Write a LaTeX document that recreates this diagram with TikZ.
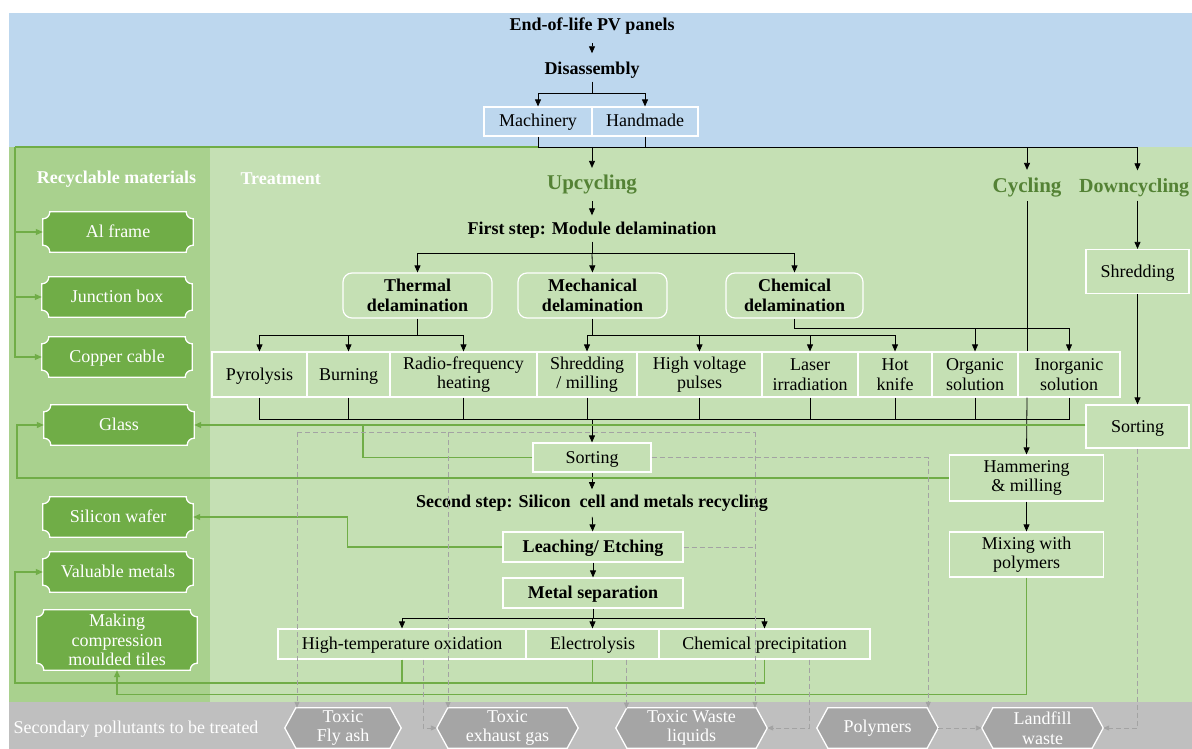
\documentclass[tikz,border=0pt]{standalone}
\usepackage{fontspec}
\setmainfont{Liberation Serif}
\usetikzlibrary{arrows.meta,calc}

\definecolor{skyblue}{HTML}{BDD7EE}
\definecolor{treatgreen}{HTML}{C5E0B4}
\definecolor{colgreen}{HTML}{A9D18E}
\definecolor{matgreen}{HTML}{70AD47}
\definecolor{linegreen}{HTML}{70AD47}
\definecolor{titlegreen}{HTML}{548235}
\definecolor{pollgray}{HTML}{BFBFBF}
\definecolor{hexgray}{HTML}{A5A5A5}
\definecolor{dashgray}{HTML}{A3A3A3}

\newcommand{\fs}{\fontsize{18}{19.5}\selectfont}

\pgfdeclarelayer{back}
\pgfdeclarelayer{mid}
\pgfsetlayers{back,mid,main}

\tikzset{
  head/.style={font=\fs\bfseries},
  route/.style={font=\fontsize{21}{23}\selectfont\bfseries, text=titlegreen},
  blk/.style={draw=white, line width=1.2pt, minimum height=45, inner sep=1pt, align=center},
  one/.style={text height=14pt, text depth=3pt},
  delam/.style={blk, rounded corners=9pt, font=\fs\bfseries, minimum width=149},
  mat/.style={text=white, minimum width=150, minimum height=40, inner sep=1pt, align=center},
  hex/.style={text=white, minimum height=40, inner sep=0pt, align=center},
  arr/.style={line width=0.8pt, -{Triangle[length=7pt,width=6pt]}},
  gline/.style={draw=linegreen, line width=1.1pt},
  garr/.style={gline, -{Triangle[length=7pt,width=6pt]}},
  dline/.style={draw=dashgray, line width=0.9pt, dash pattern=on 5pt off 3pt},
  darr/.style={dline, -{Triangle[length=6pt,width=5pt]}},
}

\begin{document}
\begin{tikzpicture}[x=1pt, y=-1pt, every node/.style={font=\fs}]
  \useasboundingbox (0,0) rectangle (1192,749);

  % bands
  \begin{pgfonlayer}{back}
    \fill[skyblue] (9,13) rectangle (1192,147);
    \fill[treatgreen] (9,147) rectangle (1192,702);
    \fill[colgreen] (9,147) rectangle (210,702);
    \fill[pollgray] (9,702) rectangle (1192,749);
  \end{pgfonlayer}

  % disassembly
  \node[head] (eol) at (592,26) {End-of-life PV panels};
  \node[head] (dis) at (592,70) {Disassembly};
  \node[blk, one, minimum width=108, minimum height=29] (mach) at (538,121.5) {Machinery};
  \node[blk, one, minimum width=106, minimum height=29] (hand) at (645,121.5) {Handmade};

  % section titles
  \node[head, text=white] (recmat) at (116.5,179) {Recyclable materials};
  \node[head, text=white, anchor=west] (treat) at (237,179) {Treatment};
  \node[route] (upc) at (592,185) {Upcycling};
  \node[route] (cyc) at (1027,188) {Cycling};
  \node[route, font=\fontsize{20}{22}\selectfont\bfseries, anchor=west, inner xsep=0pt] (dwn) at (1079,188) {Downcycling};

  % upcycling, first step
  \node[head] (first) at (592,230) {First step: Module delamination};
  \node[delam] (therm) at (417.5,295.5) {Thermal\\delamination};
  \node[delam] (mech) at (592.5,295.5) {Mechanical\\delamination};
  \node[delam, minimum width=137] (chem) at (794.5,295.5) {Chemical\\delamination};

  \node[blk, one, minimum width=95] (pyro) at (259.5,374.5) {Pyrolysis};
  \node[blk, one, minimum width=83] (burn) at (348.5,374.5) {Burning};
  \node[blk, minimum width=147] (rf) at (463.5,374.5) {Radio-frequency\\heating};
  \node[blk, minimum width=100] (mill) at (587,374.5) {Shredding\\/ milling};
  \node[blk, minimum width=125] (hvp) at (699.5,374.5) {High voltage\\pulses};
  \node[blk, minimum width=96] (laser) at (810,374.5) {Laser\\irradiation};
  \node[blk, minimum width=74] (knife) at (895,374.5) {Hot\\knife};
  \node[blk, minimum width=86] (orgsol) at (975,374.5) {Organic\\solution};
  \node[blk, minimum width=102] (inorgsol) at (1069,374.5) {Inorganic\\solution};

  % second step
  \node[blk, one, minimum width=118, minimum height=29] (sortc) at (592,457.5) {Sorting};
  \node[head] (second) at (592,503) {Second step: Silicon~ cell and metals recycling};
  \node[blk, one, minimum width=180, minimum height=30, font=\fs\bfseries] (leach) at (593,547) {Leaching/ Etching};
  \node[blk, one, minimum width=180, minimum height=30, font=\fs\bfseries] (msep) at (593,593) {Metal separation};
  \node[blk, one, minimum width=248, minimum height=30] (hto) at (402,644) {High-temperature oxidation};
  \node[blk, one, minimum width=133, minimum height=30] (elec) at (592.5,644) {Electrolysis};
  \node[blk, one, minimum width=211, minimum height=30] (cprec) at (764.5,644) {Chemical precipitation};

  % cycling and downcycling
  \node[blk, one, minimum width=103, minimum height=44] (shred) at (1137.5,271.5) {Shredding};
  \node[blk, one, minimum width=103, minimum height=43] (sortr) at (1137.5,426.5) {Sorting};
  \node[blk, minimum width=154, minimum height=46] (hammer) at (1026.5,478) {Hammering\\ \& milling};
  \node[blk, minimum width=154, minimum height=45] (mix) at (1026.5,554.5) {Mixing with\\polymers};

  % recyclable materials
  \node[mat, one] (alfr) at (118,232) {Al frame};
  \node[mat, one] (jbox) at (117,297) {Junction box};
  \node[mat, one] (cable) at (117,357) {Copper cable};
  \node[mat, one] (glass) at (119,425) {Glass};
  \node[mat, one] (wafer) at (118,517) {Silicon wafer};
  \node[mat, one] (metals) at (118,572) {Valuable metals};
  \node[mat, minimum width=160, minimum height=60] (tiles) at (117,640) {Making\\compression\\moulded tiles};

  % secondary pollutants
  \node[text=white, anchor=west] (sec) at (10,729) {Secondary pollutants to be treated};
  \node[hex, minimum width=116] (flyash) at (343,728) {Toxic\\Fly ash};
  \node[hex, minimum width=141] (exhaust) at (507.5,728) {Toxic\\exhaust gas};
  \node[hex, minimum width=151] (liquid) at (691.5,728) {Toxic Waste\\liquids};
  \node[hex, minimum width=121] (poly) at (877.5,728) {Polymers};
  \node[hex, minimum width=121] (land) at (1042.5,728) {Landfill\\waste};

  \begin{pgfonlayer}{mid}
    \foreach \m in {alfr,jbox,cable,glass,wafer,metals,tiles}
      \path[fill=matgreen, draw=white, line width=1.3pt]
        ($(\m.north west)+(0,7)$) .. controls +(4,0) and +(0,4) .. ($(\m.north west)+(7,0)$)
        -- ($(\m.north east)+(-7,0)$) .. controls +(0,4) and +(-4,0) .. ($(\m.north east)+(0,7)$)
        -- ($(\m.south east)+(0,-7)$) .. controls +(-4,0) and +(0,-4) .. ($(\m.south east)+(-7,0)$)
        -- ($(\m.south west)+(7,0)$) .. controls +(0,-4) and +(4,0) .. ($(\m.south west)+(0,-7)$)
        -- cycle;
    \foreach \h in {flyash,exhaust,liquid,poly,land}
      \path[fill=hexgray, draw=white, line width=1.3pt]
        ($(\h.north west)+(11,0)$) -- ($(\h.north east)+(-11,0)$) -- (\h.east)
        -- ($(\h.south east)+(-11,0)$) -- ($(\h.south west)+(11,0)$) -- (\h.west) -- cycle;
  \end{pgfonlayer}

  % black flow
  \coordinate (dsplit) at (592,93);
  \coordinate (bus) at (592,147);
  \draw[arr, shorten <=5pt, shorten >=5pt] (eol) -- (dis);
  \draw[line width=0.8pt] (dis) -- (dsplit);
  \draw[arr] (dsplit) -| (mach.north);
  \draw[arr] (dsplit) -| (hand.north);
  \draw[line width=0.8pt] (mach.south) |- (bus);
  \draw[line width=0.8pt] (hand.south) |- (bus);
  \draw[arr, shorten >=4pt] (bus) -- (upc);
  \draw[arr, shorten >=5pt] (bus) -| (cyc.north);
  \draw[arr, shorten >=5pt] (bus) -| (shred.north |- dwn.north);
  \draw[arr] (shred.north |- dwn.south) -- (shred.north);
  \draw[arr] (shred) -- (sortr);
  \draw[line width=0.8pt] (cyc.south) -- (cyc.south |- inorgsol.north);
  \draw[arr] (cyc.south |- inorgsol.south) -- (hammer.north);
  \draw[arr] (hammer) -- (mix);

  \draw[arr, shorten <=3pt, shorten >=3pt] (upc) -- (first);
  \draw[line width=0.8pt] (first) -- (592,253) coordinate (fsplit);
  \draw[arr] (fsplit) -| (therm.north);
  \draw[arr] (fsplit) -- (mech.north);
  \draw[arr] (fsplit) -| (chem.north);
  \draw[line width=0.8pt] (therm.south) -- ++(0,17) coordinate (tsplit);
  \draw[line width=0.8pt] (mech.south) -- ++(0,17) coordinate (msplit);
  \draw[line width=0.8pt] (chem.south) -- ++(0,10) coordinate (csplit);
  \foreach \p in {pyro,burn,rf} \draw[arr] (tsplit) -| (\p.north);
  \foreach \p in {mill,hvp,laser,knife} \draw[arr] (msplit) -| (\p.north);
  \foreach \p in {orgsol,inorgsol} \draw[arr] (csplit) -| (\p.north);

  \coordinate (rowbus) at (592,419);
  \foreach \p in {pyro,burn,rf,mill,hvp,laser,knife,orgsol,inorgsol}
    \draw[line width=0.8pt] (\p.south) |- (rowbus);
  \draw[arr] (rowbus) -- (sortc.north);
  \draw[arr, shorten >=2pt] (sortc) -- (second);
  \draw[arr, shorten <=2pt] (second) -- (leach);
  \draw[arr] (leach) -- (msep);
  \draw[line width=0.8pt] (msep.south) -- ++(0,10) coordinate (ssplit);
  \foreach \p in {hto,elec,cprec} \draw[arr] (ssplit) -| (\p.north);

  % recovered materials
  \coordinate (gtop) at (15,147);
  \draw[gline] (mach.south |- bus) -- (gtop);
  \foreach \m in {alfr,jbox,cable} \draw[garr] (gtop) |- (\m.west);
  \draw[garr] (sortr.west |- glass.east) -- (glass.east);
  \draw[gline] (sortc.west) -| (363,425);
  \draw[garr] (hammer.west) -| (17,425) -- (glass.west);
  \draw[garr] (leach.west) -- ++(-155,0) |- (wafer.east);
  \draw[gline] (hto.south) -- ++(0,24);
  \draw[gline] (elec.south) -- ++(0,24);
  \draw[garr] (cprec.south) |- (15,683) |- (metals.west);
  \draw[garr] (mix.south) |- ($(tiles.south)+(0,24)$) -- (tiles.south);

  % pollutants
  \coordinate (dtl) at (297,432);
  \coordinate (dtr) at (755,432);
  \draw[dline] (dtl) -- (dtr);
  \draw[darr] (dtl) -- (dtl |- flyash.north);
  \draw[darr] (448,432) -- (448,708);
  \draw[darr] (dtr) -- (dtr |- liquid.north);
  \draw[dline] (leach.east) -- (leach.east -| dtr);
  \draw[darr] ($(hto.south)+(21,0)$) |- (exhaust.west);
  \draw[darr] ($(elec.south)+(34,0)$) -- ++(0,49);
  \draw[darr] ($(cprec.south)+(44.5,0)$) |- (liquid.east);
  \draw[darr] (sortc.east) -| ($(poly.north east)+(-10,0)$);
  \draw[darr] (sortr.south) |- (land.east);
  \draw[darr] (poly.east) -- (land.west);
\end{tikzpicture}
\end{document}
